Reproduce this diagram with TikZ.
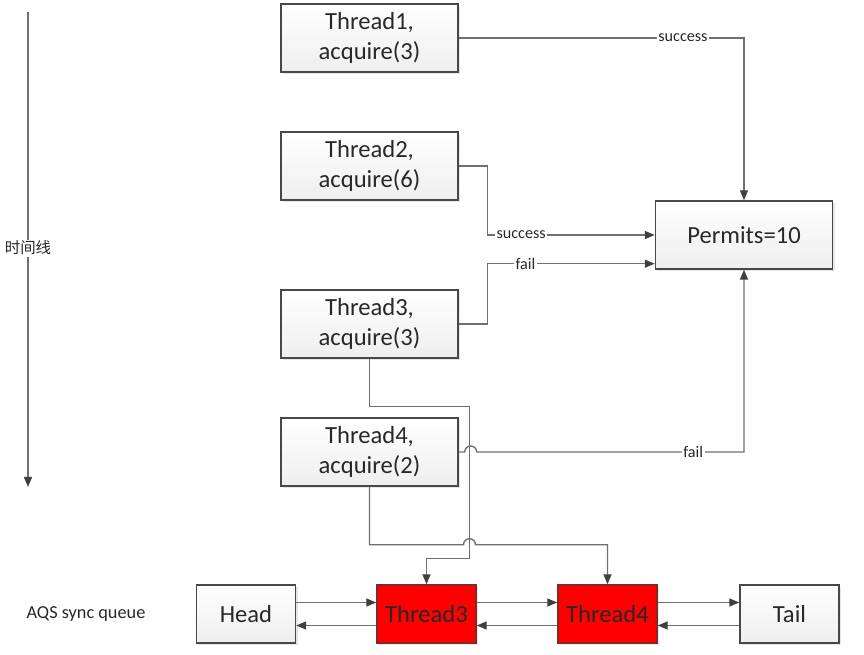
\documentclass[tikz,border=0pt]{standalone}
\usepackage{fontspec}
\setmainfont{Carlito}
\newfontfamily\cjk{Noto Sans CJK SC}
\usetikzlibrary{arrows.meta,shadows}
\definecolor{linegray}{RGB}{112,112,112}
\definecolor{tipgray}{RGB}{64,64,64}
\definecolor{boxline}{RGB}{72,72,72}
\definecolor{txtgray}{RGB}{40,40,40}
\definecolor{qred}{RGB}{255,0,0}
\definecolor{qredline}{RGB}{130,40,40}

\begin{document}
\begin{tikzpicture}[
    x=0.025cm, y=-0.025cm,
    line width=1pt,
    conn/.style={draw=linegray, -{Triangle[length=0.25cm,width=0.2cm,color=tipgray]}},
    thread/.style={draw=boxline, top color=white, bottom color=gray!13,
        drop shadow={opacity=0.2, shadow xshift=0.05cm, shadow yshift=-0.05cm},
        minimum width=4.425cm, minimum height=1.7cm, align=center,
        text=txtgray, font=\fontsize{17.5}{21}\selectfont},
    permit/.style={thread},
    qbox/.style={draw=boxline, top color=white, bottom color=gray!13,
        drop shadow={opacity=0.2, shadow xshift=0.05cm, shadow yshift=-0.05cm},
        minimum width=2.475cm, minimum height=1.45cm,
        text=txtgray, font=\fontsize{17.5}{21}\selectfont},
    qwait/.style={qbox, fill=qred, top color=qred, bottom color=qred, draw=qredline},
    lbl/.style={fill=white, inner sep=1pt, text=txtgray, font=\fontsize{11.5}{13}\selectfont},
    timelbl/.style={fill=white, inner sep=1pt, text=txtgray, font=\cjk\fontsize{11}{13}\selectfont}
]
    \useasboundingbox (0,0) rectangle (864,655);

    % threads
    \node[thread] (t1) at (369.5,38) {Thread1,\\acquire(3)};
    \node[thread] (t2) at (369.5,166) {Thread2,\\acquire(6)};
    \node[thread] (t3) at (369.5,324) {Thread3,\\acquire(3)};
    \node[thread] (t4) at (369.5,452) {Thread4,\\acquire(2)};
    \node[permit] (permits) at (744,235) {Permits=10};

    % queue
    \node[text=txtgray, font=\fontsize{13}{15}\selectfont] (aqs) at (86,614) {AQS sync queue};
    \node[qbox] (head) at (246,614) {Head};
    \node[qwait] (q3) at (426.5,614) {Thread3};
    \node[qwait] (q4) at (607.5,614) {Thread4};
    \node[qbox] (tail) at (789.5,614) {Tail};

    % time line
    \coordinate (ttop) at (28,12);
    \coordinate (tbot) at (28,487);
    \draw[conn] (ttop) -- node[timelbl, pos=0.497] (timeline) {时间线} (tbot);

    % acquire
    \draw[conn] (t1.east) -| node[lbl, pos=0.393] (s1) {success} (permits.north);
    \draw[conn] (t2.east) -- ++(29,0) |- node[lbl, pos=0.6] (s2) {success} (permits.west);
    \draw[conn] (t3.east) -- ++(29,0) |- node[lbl, pos=0.613] (f3) {fail} ([yshift=0.15cm]permits.south west);
    \draw[conn] (t4.east) -- ++(6,0) arc[start angle=180, end angle=0, radius=0.15cm]
        -| node[lbl, pos=0.405] (f4) {fail} (permits.south);

    % enqueue
    \draw[conn] (t3.south) -- ++(0,48) -- ++(100,0) -- ++(0,152) -| (q3.north);
    \draw[conn] (t4.south) -- ++(0,58) -- ++(94,0) arc[start angle=180, end angle=0, radius=0.15cm] -| (q4.north);

    % links
    \draw[conn] ([yshift=0.2875cm]head.east) -- ([yshift=0.2875cm]q3.west);
    \draw[conn] ([yshift=-0.2875cm]q3.west) -- ([yshift=-0.2875cm]head.east);
    \draw[conn] ([yshift=0.2875cm]q3.east) -- ([yshift=0.2875cm]q4.west);
    \draw[conn] ([yshift=-0.2875cm]q4.west) -- ([yshift=-0.2875cm]q3.east);
    \draw[conn] ([yshift=0.2875cm]q4.east) -- ([yshift=0.2875cm]tail.west);
    \draw[conn] ([yshift=-0.2875cm]tail.west) -- ([yshift=-0.2875cm]q4.east);

\end{tikzpicture}
\end{document}
